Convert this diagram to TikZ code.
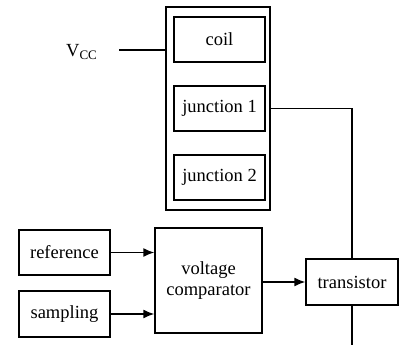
\documentclass[tikz,border=0pt]{standalone}
\usepackage{fontspec}
\setmainfont{Liberation Serif}
\usetikzlibrary{arrows.meta}
\begin{document}
\begin{tikzpicture}[x=1pt,y=-1pt,
  box/.style={draw,line width=1.4pt,minimum width=#1,inner sep=0pt,font=\fontsize{18.5}{21}\selectfont,align=center},
  wire/.style={line width=1.4pt},
  arr/.style={line width=1.4pt,-{Latex[length=11pt,width=9pt]}}]
\useasboundingbox (0,0) rectangle (404,345);
\node[box=104pt,minimum height=203pt] (outer) at (218,108.5) {};
\node[box=91pt,minimum height=45pt] (coil) at (219.5,39.5) {coil};
\node[box=91pt,minimum height=45pt] (j1) at (219.5,108.5) {junction 1};
\node[box=91pt,minimum height=45pt] (j2) at (219.5,177.5) {junction 2};
\node[font=\fontsize{18.5}{21}\selectfont,anchor=west,inner sep=0pt] (vcc) at (66,52) {V\raisebox{-0.25ex}{\fontsize{13}{13}\selectfont CC}};
\coordinate (vccend) at (119,50);
\draw[wire] (vccend) -- (vccend -| outer.west);
\node[box=92pt,minimum height=46pt] (tr) at (352,282) {transistor};
\node[box=107pt,minimum height=105pt] (comp) at (208.5,280.5) {voltage\\comparator};
\node[box=91pt,minimum height=45pt] (ref) at (64.5,252.5) {reference};
\node[box=91pt,minimum height=46pt] (samp) at (64.5,314) {sampling};
\draw[wire] (outer.east |- j1) -- (tr.north |- j1) -- (tr.north);
\coordinate (bot) at (352,345);
\draw[wire] (tr.south) -- (bot);
\draw[arr] (ref.east) -- (ref.east -| comp.west);
\draw[arr] (samp.east) -- (samp.east -| comp.west);
\draw[arr] (comp.east |- tr.west) -- (tr.west);
\end{tikzpicture}
\end{document}
